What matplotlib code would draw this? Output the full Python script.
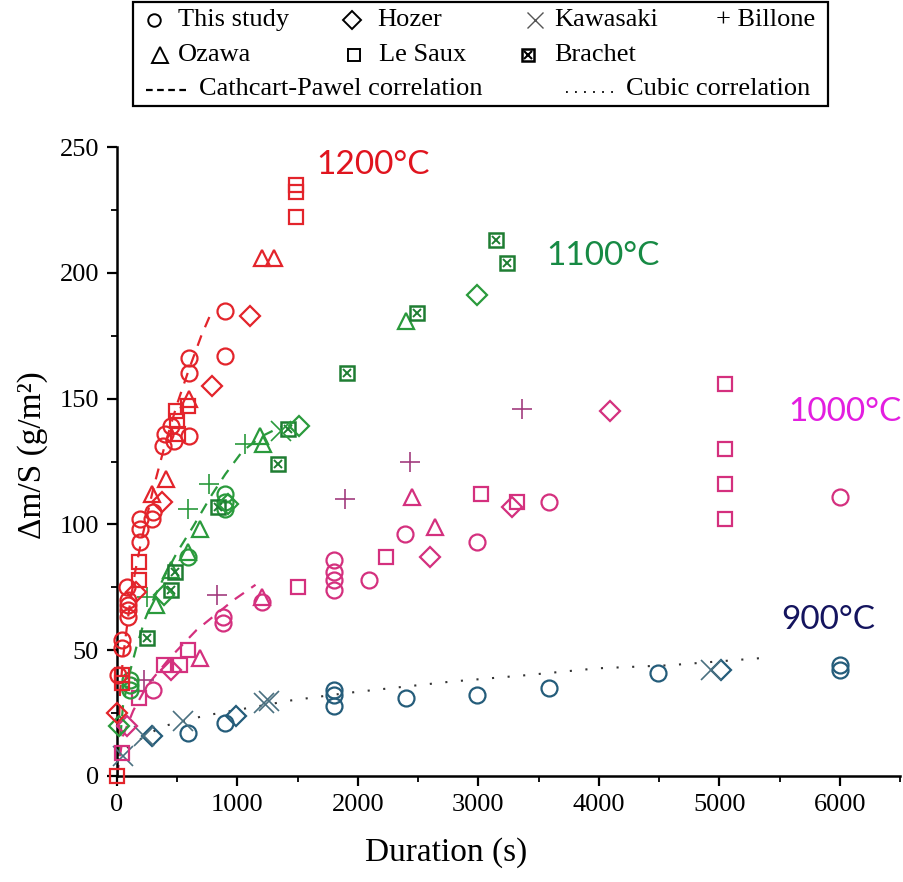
import matplotlib
matplotlib.use('Agg')
import matplotlib.pyplot as plt
from matplotlib.patches import Rectangle
from matplotlib.ticker import MultipleLocator

# ------------------------- data (duration s, mass gain g/m2) -------------------------
# 1200 C
this1200_t = [900, 900, 600, 600, 600, 400, 450, 380, 470, 300, 190, 290, 190, 190, 80, 95, 95, 95, 95, 40, 40, 10]
this1200_m = [185, 167, 166, 160, 135, 136, 139, 131, 133, 105, 102, 102, 98, 93, 75, 70, 68, 66, 63, 54, 51, 40]
lesaux1200_t = [1490, 1490, 1490, 590, 490, 500, 510, 180, 180, 40, 40, 0]
lesaux1200_m = [235, 232, 222, 147, 145, 141, 136, 85, 78, 40, 37, 0]
ozawa1200_t = [1200, 1300, 600, 410, 290]
ozawa1200_m = [206, 206, 150, 118, 112]
hozer1200_t = [1100, 790, 370, 160, 0]
hozer1200_m = [183, 155, 109, 73, 25]
cp1200_t = [0, 25, 50, 100, 150, 200, 300, 400, 500, 600, 700, 790]
cp1200_m = [0, 33, 47, 66, 81, 93, 114, 132, 148, 162, 175, 185]

# 1100 C
this1100_t = [900, 900, 900, 590, 110, 110, 110]
this1100_m = [112, 109, 106, 87, 38, 36, 34]
ozawa1100_t = [2400, 1190, 1215, 690, 590, 450, 320]
ozawa1100_m = [181, 135, 132, 98, 89, 82, 68]
brachet1100_t = [3150, 3240, 2490, 1910, 1420, 1340, 840, 480, 450, 250]
brachet1100_m = [213, 204, 184, 160, 138, 124, 107, 81, 74, 55]
hozer1100_t = [2990, 1510, 920, 390, 20]
hozer1100_m = [191, 139, 108, 72, 20]
billone1100_t = [1060, 760, 590, 250]
billone1100_m = [132, 116, 106, 71]
kawasaki1100_t = [1360]
kawasaki1100_m = [137]
cp1100_t = [0, 50, 100, 160, 230, 300, 400, 500, 630, 790, 900, 1040, 1200, 1370]
cp1100_m = [0, 28, 40, 51, 62, 70, 80, 89, 99, 112, 120, 129, 135, 139]

# 1000 C
this1000_t = [6000, 3590, 2390, 2990, 2090, 1800, 1800, 1800, 1800, 1200, 880, 880, 300]
this1000_m = [111, 109, 96, 93, 78, 86, 81, 78, 74, 69, 63, 61, 34]
lesaux1000_t = [5050, 5050, 5050, 5050, 3020, 3320, 2230, 1500, 590, 520, 390, 185, 40]
lesaux1000_m = [156, 130, 116, 102, 112, 109, 87, 75, 50, 44, 44, 31, 9]
ozawa1000_t = [2450, 2640, 1200, 690]
ozawa1000_m = [111, 99, 71, 47]
hozer1000_t = [4090, 3280, 2600, 450, 80]
hozer1000_m = [145, 107, 87, 42, 20]
billone1000_t = [3360, 2430, 1890, 830, 220]
billone1000_m = [146, 125, 110, 72, 38]
cp1000_t = [0, 50, 135, 250, 440, 660, 970, 1150]
cp1000_m = [0, 16, 26, 36, 47, 58, 70, 76]

# 900 C
this900_t = [6000, 6000, 4490, 3590, 2990, 2400, 1800, 1800, 1800, 900, 590]
this900_m = [44, 42, 41, 35, 32, 31, 34, 32, 28, 21, 17]
hozer900_t = [5010, 990, 290]
hozer900_m = [42, 24, 16]
kawasaki900_t = [4930, 1220, 1260, 550, 220, 50]
kawasaki900_m = [42, 29, 30, 22, 16, 8]
cubic900_t = [0, 10, 25, 50, 135, 370, 730, 1440, 1910, 2290, 2770, 3380, 3990, 4580, 5330]
cubic900_m = [0, 5.7, 7.8, 10, 13, 19.6, 24, 30, 33, 35, 37.5, 40, 42.8, 44, 46.8]

x_ticks = [0, 1000, 2000, 3000, 4000, 5000, 6000]
y_ticks = [0, 50, 100, 150, 200, 250]

# ------------------------- style -------------------------
SERIF = ['Liberation Serif', 'DejaVu Serif']
R = '#e3242b'
G = '#2a9a3c'
GB = '#1f7d32'
M = '#d4307e'
MB = '#a23c7e'
B = '#245c7a'
BK = '#4a7080'

fig = plt.figure(figsize=(9.04, 8.82), dpi=100)
W, H = 904, 882
ax = fig.add_axes([117 / W, (H - 776) / H, (900 - 117) / W, (776 - 147) / H])

def pts(t, m, marker, color, ms, mew=1.6):
    ax.plot(t, m, linestyle='none', marker=marker, ms=ms, mec=color, mfc='none',
            mew=mew, clip_on=False, zorder=3)

def brachet(t, m, color):
    pts(t, m, 's', color, 10.5, 1.8)
    pts(t, m, 'x', color, 6, 1.4)

# correlations
dash = (0, (5, 4))
ax.plot(cp1200_t, cp1200_m, color=R, lw=1.6, ls=dash, zorder=2)
ax.plot(cp1100_t, cp1100_m, color=G, lw=1.6, ls=dash, zorder=2)
ax.plot(cp1000_t, cp1000_m, color=M, lw=1.6, ls=dash, zorder=2)
ax.plot(cubic900_t, cubic900_m, color='#333333', lw=1.5, ls=(0, (1, 6.5)), zorder=2)

# 900
pts(this900_t, this900_m, 'o', B, 11.5)
pts(hozer900_t, hozer900_m, 'D', B, 10)
pts(kawasaki900_t, kawasaki900_m, 'x', BK, 14, 1.2)
# 1000
pts(this1000_t, this1000_m, 'o', M, 11.5)
pts(lesaux1000_t, lesaux1000_m, 's', M, 10.5)
pts(ozawa1000_t, ozawa1000_m, '^', M, 12)
pts(hozer1000_t, hozer1000_m, 'D', M, 10)
pts(billone1000_t, billone1000_m, '+', MB, 14, 1.2)
# 1100
pts(this1100_t, this1100_m, 'o', G, 11.5)
pts(ozawa1100_t, ozawa1100_m, '^', G, 12)
brachet(brachet1100_t, brachet1100_m, GB)
pts(hozer1100_t, hozer1100_m, 'D', G, 10)
pts(billone1100_t, billone1100_m, '+', G, 14, 1.2)
pts(kawasaki1100_t, kawasaki1100_m, 'x', G, 14, 1.2)
# 1200
pts(this1200_t, this1200_m, 'o', R, 11.5)
pts(lesaux1200_t, lesaux1200_m, 's', R, 10.5)
pts(ozawa1200_t, ozawa1200_m, '^', R, 12)
pts(hozer1200_t, hozer1200_m, 'D', R, 10)

ax.set_xlim(0, 6500)
ax.set_ylim(0, 250)
ax.set_xticks(x_ticks)
ax.set_yticks(y_ticks)
ax.xaxis.set_minor_locator(MultipleLocator(500))
ax.yaxis.set_minor_locator(MultipleLocator(25))
for s in ['top', 'right']:
    ax.spines[s].set_visible(False)
for s in ['left', 'bottom']:
    ax.spines[s].set_linewidth(1.8)
ax.tick_params(which='major', direction='out', length=7, width=1.6, pad=6)
ax.tick_params(which='minor', direction='out', length=4, width=1.3)
for lab in ax.get_xticklabels() + ax.get_yticklabels():
    lab.set_fontfamily(SERIF)
    lab.set_fontsize(19)
ax.set_xlabel('Duration (s)', fontsize=24, family=SERIF)
ax.set_ylabel('Δm/S (g/m²)', fontsize=24, family=SERIF)
ax.xaxis.set_label_coords(0.42, -0.098)
ax.yaxis.set_label_coords(-0.088, 0.51)

# ------------------------- overlay (legend, labels) in pixel coords -------------------------
lax = fig.add_axes([0, 0, 1, 1], facecolor='none')
lax.set_xlim(0, W)
lax.set_ylim(H, 0)
lax.axis('off')

lax.add_patch(Rectangle((133, 2), 695, 104, fill=False, lw=1.6, ec='black'))
LK = 'black'
def lmark(x, y, marker, ms, mew=1.4, color=LK):
    lax.plot([x], [y], marker=marker, ms=ms, mec=color, mfc='none', mew=mew, ls='none')
def ltext(x, y, s):
    lax.text(x, y, s, fontsize=19, family=SERIF, va='center', ha='left')

r1, r2, r3 = 20, 55, 89
lmark(154, r1, 'o', 9)
ltext(178, r1, 'This study')
lmark(352, r1, 'D', 9)
ltext(377, r1, 'Hozer')
lmark(535, r1, 'x', 12, 1.0, '#555555')
ltext(554, r1, 'Kawasaki')
ltext(716, r1, '+ Billone')
lmark(160, r2, '^', 11)
ltext(178, r2, 'Ozawa')
lmark(354, r2, 's', 9)
ltext(379, r2, 'Le Saux')
lmark(528, r2, 's', 9, 1.8)
lmark(528, r2, 'x', 5.5, 1.5)
ltext(554, r2, 'Brachet')
lax.plot([146, 186], [r3 + 1, r3 + 1], color='black', lw=1.6, ls=(0, (3, 2)))
ltext(199, r3, 'Cathcart-Pawel correlation')
lax.plot([566, 618], [r3 + 3, r3 + 3], color='black', lw=1.3, ls=(0, (1, 4)))
ltext(626, r3, 'Cubic correlation')

TF = ['Lato', 'DejaVu Sans']
lax.text(373, 165, '1200°C', color='#e0141e', fontsize=24, family=TF, ha='center', va='center')
lax.text(603, 256, '1100°C', color='#178a44', fontsize=24, family=TF, ha='center', va='center')
lax.text(845, 412, '1000°C', color='#e31ee0', fontsize=24, family=TF, ha='center', va='center')
lax.text(828, 620, '900°C', color='#14145e', fontsize=24, family=TF, ha='center', va='center')

fig.savefig('out.png', dpi=100)
